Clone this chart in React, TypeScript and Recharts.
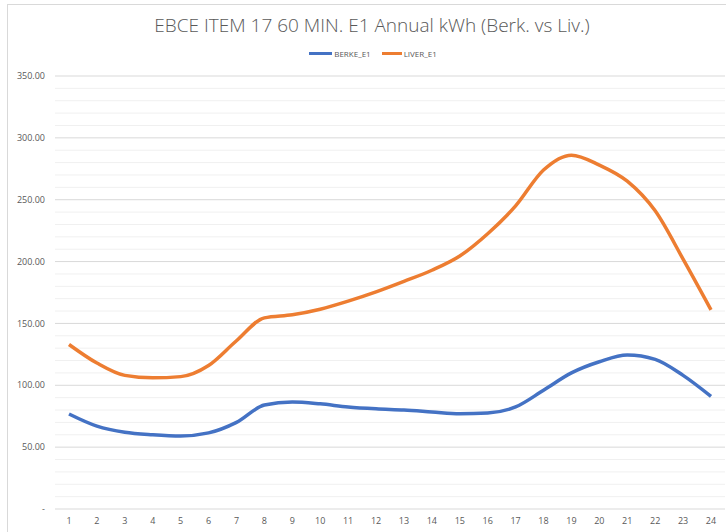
import React from 'react';
import { LineChart, Line, XAxis, YAxis, CartesianGrid } from 'recharts';

const hours = ['1', '2', '3', '4', '5', '6', '7', '8', '9', '10', '11', '12', '13', '14', '15', '16', '17', '18', '19', '20', '21', '22', '23', '24'];
const berkeE1 = [76.8, 67, 62, 60, 59, 61.5, 70, 84, 86.5, 85, 82.5, 81, 80, 78.5, 77, 77.6, 82.5, 96, 110, 119, 124.5, 121, 108, 91];
const liverE1 = [133, 118, 108, 106, 107, 116, 136, 154.5, 157, 161.5, 168, 175.5, 184, 193, 204.5, 222.5, 245, 274, 286, 278, 265, 241, 202, 161];
const yTicks = [0, 10, 20, 30, 40, 50, 60, 70, 80, 90, 100, 110, 120, 130, 140, 150, 160, 170, 180, 190, 200, 210, 220, 230, 240, 250, 260, 270, 280, 290, 300, 310, 320, 330, 340, 350];

const data = hours.map((h, i) => ({ hour: h, BERKE_E1: berkeE1[i], LIVER_E1: liverE1[i] }));

const FONT = '"Open Sans", "Liberation Sans", sans-serif';
const TEXT = '#595959';

const formatY = (v: number) => {
    if (v % 50 !== 0) return '';
    if (v === 0) return '-';
    return v.toFixed(2);
};

const GridLine = (props: any) => {
    const { x1, x2, y1, y2, index } = props;
    const major = yTicks[index] % 50 === 0;
    return <line x1={x1} x2={x2} y1={y1} y2={y2} stroke={major ? '#d9d9d9' : '#f0f0f0'} strokeWidth={1} />;
};

const App: React.FC = () => {
    return (
        <div style={{ position: 'absolute', left: 0, top: 0, width: 726, height: 532, overflow: 'hidden', background: '#fff' }}>
            <div style={{ position: 'absolute', left: 7, top: 4, width: 760, height: 560, border: '1px solid #d9d9d9' }} />
            <div
                style={{
                    position: 'absolute', left: 9, top: 12, width: 726, textAlign: 'center',
                    fontFamily: FONT, fontWeight: 300, fontSize: 19, color: TEXT, whiteSpace: 'nowrap'
                }}
            >
                EBCE ITEM 17 60 MIN. E1 Annual kWh (Berk. vs Liv.)
            </div>
            <div
                style={{
                    position: 'absolute', left: 10, top: 48, width: 726, display: 'flex', justifyContent: 'center',
                    alignItems: 'center', fontFamily: FONT, fontSize: 8, color: TEXT
                }}
            >
                <span style={{ display: 'inline-block', width: 23, height: 3, background: '#4472C4', marginRight: 2 }} />
                <span style={{ marginRight: 11 }}>BERKE_E1</span>
                <span style={{ display: 'inline-block', width: 20, height: 3, background: '#ED7D31', marginRight: 2 }} />
                <span>LIVER_E1</span>
            </div>
            <div style={{ position: 'absolute', left: 0, top: 0 }}>
                <LineChart width={726} height={532} data={data} margin={{ top: 76, right: 1, left: 0, bottom: 3 }}>
                    <CartesianGrid vertical={false} horizontal={GridLine} />
                    <XAxis
                        dataKey="hour"
                        axisLine={false}
                        tickLine={false}
                        tickSize={0}
                        tickMargin={9}
                        height={20}
                        padding={{ left: 14, right: 14 }}
                        interval={0}
                        tick={{ fontSize: 9, fill: TEXT, fontFamily: FONT }}
                    />
                    <YAxis
                        domain={[0, 350]}
                        ticks={yTicks}
                        interval={0}
                        tickFormatter={formatY}
                        axisLine={false}
                        tickLine={false}
                        tickSize={0}
                        tickMargin={10}
                        width={55}
                        tick={{ fontSize: 9, fill: TEXT, fontFamily: FONT }}
                    />
                    <Line type="monotone" dataKey="BERKE_E1" stroke="#4472C4" strokeWidth={3.5} dot={false} isAnimationActive={false} />
                    <Line type="monotone" dataKey="LIVER_E1" stroke="#ED7D31" strokeWidth={3.5} dot={false} isAnimationActive={false} />
                </LineChart>
            </div>
        </div>
    );
};

export default App;
